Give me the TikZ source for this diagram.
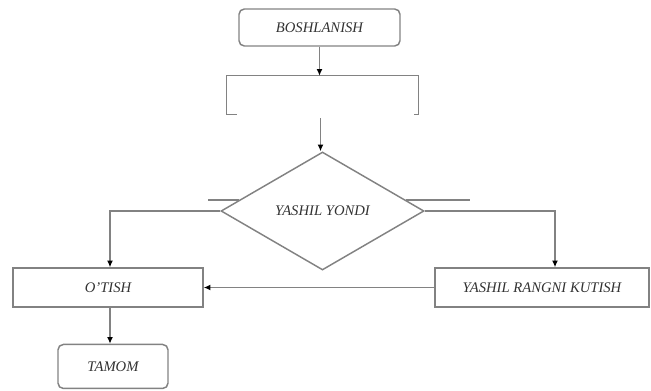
\documentclass[tikz,border=0pt]{standalone}
\usepackage{fontspec}
\setmainfont{Liberation Serif}
\usepackage{tikz}
\usetikzlibrary{shapes.geometric, arrows.meta, calc, positioning}

\definecolor{linegray}{RGB}{130,130,130}
\definecolor{textgray}{RGB}{50,50,50}

\tikzset{
    boxbase/.style={minimum width=142.5pt, minimum height=29.25pt, inner sep=0pt,
        font=\fontsize{11}{13}\selectfont\itshape, text=textgray},
    termbox/.style={boxbase, draw=linegray, line width=1.1pt, rounded corners=4pt},
    procbox/.style={boxbase, draw=linegray, line width=1.1pt},
    decbox/.style={boxbase, diamond, draw=linegray, line width=1.1pt,
        minimum width=152.25pt, minimum height=88.5pt, aspect=1.72},
    flow/.style={draw=linegray, line width=1.1pt, -{Latex[length=5pt,width=4.5pt,color=black]}},
    plain/.style={draw=linegray, line width=1.1pt}
}

\begin{document}
\begin{tikzpicture}[x=0.75pt, y=-0.75pt, node distance=2cm]
    \useasboundingbox (0,0) rectangle (651,390);

    % Start
    \node [termbox, minimum width=120.75pt, minimum height=27.75pt] (start) at (319.5,27.5) {BOSHLANISH};

    % Empty block (open at the bottom)
    \node [boxbase, minimum width=143.25pt, minimum height=28.5pt, below=21.75pt of start, xshift=2.25pt] (blank) {};
    \draw [plain] ($(blank.south west)+(7.5pt,0)$) -- (blank.south west) -- (blank.north west)
        -- (blank.north east) -- (blank.south east) -- ++(-3pt,0);
    \coordinate (blank_out) at ($(blank.south)+(-1.5pt,-3pt)$);

    % Decision
    \node [decbox, below=27.75pt of blank] (dec) {YASHIL YONDI};
    \draw [plain] ($(dec.west)!0.186!(dec.north)$) -- ++(-31,0);
    \draw [plain] ($(dec.east)!0.186!(dec.north)$) -- ++(64,0);

    % Branches
    \node [procbox] (otish) at (108,287.5) {O'TISH};
    \node [procbox, minimum width=160.5pt] (kutish) at (542,287.5) {YASHIL RANGNI KUTISH};

    % End
    \node [termbox, minimum width=82.5pt, minimum height=33pt, below=27pt of otish, xshift=3.75pt] (tamom) {TAMOM};
    \coordinate (otish_in) at ($(otish.north)+(1.5pt,0)$);
    \coordinate (otish_out) at ($(otish.south)+(1.5pt,0)$);
    \coordinate (kutish_in) at ($(kutish.north)+(9.75pt,0)$);

    % Connections
    \draw [flow] (start.south) -- (start.south |- blank.north);
    \draw [flow] (blank_out) -- (blank_out |- dec.north);
    \draw [flow] (dec.west) -| (otish_in);
    \draw [flow] (dec.east) -| (kutish_in);
    \draw [flow] (kutish.west) -- (otish.east);
    \draw [flow] (otish_out) -- (otish_out |- tamom.north);

\end{tikzpicture}
\end{document}
